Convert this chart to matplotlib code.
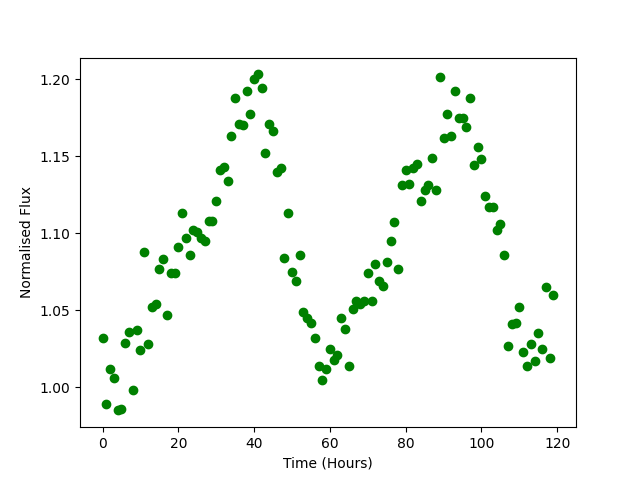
import matplotlib
matplotlib.use("Agg")
import matplotlib.pyplot as plt

hours = list(range(120))

flux = [
    1.032, 0.989, 1.012, 1.006, 0.985, 0.986, 1.029, 1.036, 0.998, 1.037,
    1.024, 1.088, 1.028, 1.052, 1.054, 1.077, 1.083, 1.047, 1.074, 1.074,
    1.091, 1.113, 1.097, 1.086, 1.102, 1.101, 1.097, 1.095, 1.108, 1.108,
    1.121, 1.141, 1.143, 1.134, 1.163, 1.188, 1.171, 1.170, 1.192, 1.177,
    1.200, 1.203, 1.194, 1.152, 1.171, 1.166, 1.140, 1.142, 1.084, 1.113,
    1.075, 1.069, 1.086, 1.049, 1.045, 1.042, 1.032, 1.014, 1.005, 1.012,
    1.025, 1.018, 1.021, 1.045, 1.038, 1.014, 1.051, 1.056, 1.054, 1.056,
    1.074, 1.056, 1.080, 1.069, 1.066, 1.081, 1.095, 1.107, 1.077, 1.131,
    1.141, 1.132, 1.142, 1.145, 1.121, 1.128, 1.131, 1.149, 1.128, 1.201,
    1.162, 1.177, 1.163, 1.192, 1.175, 1.175, 1.169, 1.188, 1.144, 1.156,
    1.148, 1.124, 1.117, 1.117, 1.102, 1.106, 1.086, 1.027, 1.041, 1.042,
    1.052, 1.023, 1.014, 1.028, 1.017, 1.035, 1.025, 1.065, 1.019, 1.060,
]

fig, ax = plt.subplots(figsize=(6.4, 4.8), dpi=100)
ax.plot(hours, flux, "o", color="green")
ax.set_xlabel("Time (Hours)")
ax.set_ylabel("Normalised Flux")

fig.savefig("out.png", dpi=100)
